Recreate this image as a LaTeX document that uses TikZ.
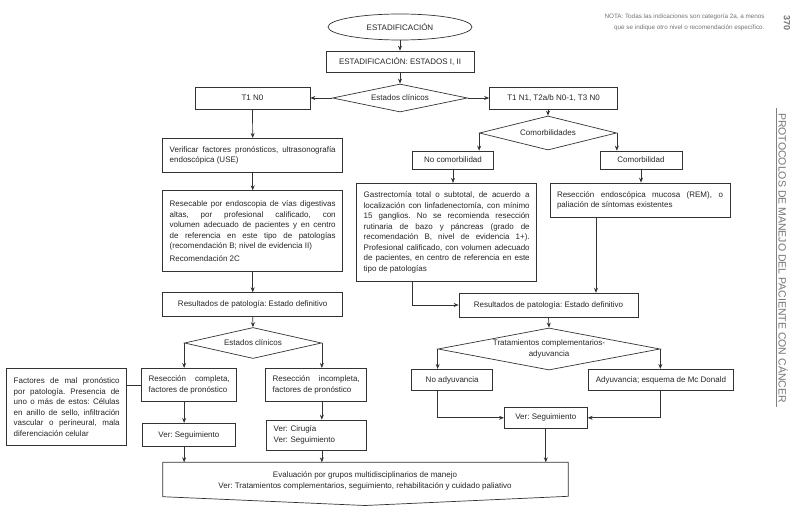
\documentclass[tikz,border=0pt]{standalone}
\usepackage{fontspec}
\setmainfont{Liberation Sans}
\usetikzlibrary{shapes.geometric,arrows.meta}
\newcommand{\fsz}{\fontsize{8}{10.5}\selectfont}
\hyphenpenalty=10000
\exhyphenpenalty=10000
\frenchspacing

\begin{document}
\begin{tikzpicture}[x=1pt, y=-1pt,
    blk/.style={draw=black!80, line width=.7pt, inner xsep=7pt, inner ysep=2pt,
      font=\fsz, text=black!85, align=center},
    par/.style={blk, align=justify},
    dec/.style={diamond, draw=black!80, line width=.7pt, inner sep=0pt,
      font=\fsz, text=black!85, align=center},
    arr/.style={draw=black!80, line width=.7pt, -{Stealth[length=5pt,width=4pt]}},
    lnk/.style={draw=black!80, line width=.7pt},
    side/.style={text=black!55}]

  \useasboundingbox (0,0) rectangle (800,513);

  % top: staging
  \node[blk, ellipse, inner sep=0pt, minimum width=144pt, minimum height=26pt] (ini) at (400,27) {ESTADIFICACIÓN};
  \node[blk, minimum width=148pt, minimum height=21pt] (est) at (400,61.5) {ESTADIFICACIÓN: ESTADOS I, II};
  \node[dec, aspect=4.8, minimum width=135pt, minimum height=28pt] (cl1) at (400,98) {Estados clínicos};
  \node[blk, minimum width=115pt, minimum height=22pt] (tA) at (252.5,98) {T1 N0};
  \node[blk, minimum width=128pt, minimum height=22pt] (tB) at (553.5,98) {T1 N1, T2a/b N0-1, T3 N0};

  \draw[arr] (ini.south) -- (est.north);
  \draw[arr] (est.south) -- (cl1.north);
  \draw[arr] (cl1.west) -- (tA.east);
  \draw[arr] (cl1.east) -- (tB.west);

  % left branch: T1 N0
  \node[par, text width=166pt, minimum height=34pt] (usr) at (252.7,155.3)
    {Verificar factores pronósticos, ultrasonografía endoscópica (USE)};
  \node[par, text width=166pt, minimum height=80.3pt] (rsc) at (252.7,230.85)
    {Resecable por endoscopia de vías digestivas\linebreak altas, por profesional calificado, con\linebreak
     volumen adecuado de pacientes y en centro\linebreak de referencia en este tipo de patologías\linebreak
     (recomendación B; nivel de evidencia II)\\[2pt]Recomendación 2C};
  \node[blk, minimum width=180pt, minimum height=23.3pt] (patL) at (252.7,304.3) {Resultados de patología: Estado definitivo};
  \node[dec, aspect=4.4, minimum width=137pt, minimum height=31pt] (cl2) at (253,343) {Estados clínicos};
  \node[par, text width=81pt, minimum height=33.4pt] (cmp) at (189.2,385) {Resección completa, factores de pronóstico};
  \node[par, text width=87pt, minimum height=33.4pt] (inc) at (316.2,385) {Resección incompleta, factores de pronóstico};
  \node[par, text width=106pt, minimum height=77.4pt] (mal) at (66.7,407)
    {Factores de mal pronóstico por patología. Presencia de uno o más de estos: Células
     en anillo de sello, infiltración vascular o perineural, mala diferenciación celular};
  \node[blk, minimum width=92.3pt, minimum height=23.4pt] (sgL) at (188.9,435) {Ver: Seguimiento};
  \node[blk, align=left, text width=86pt, minimum height=30pt] (cir) at (316.7,435) {Ver: Cirugía\\Ver: Seguimiento};

  \draw[arr] (tA.south) -- (usr.north);
  \draw[arr] (usr.south) -- (rsc.north);
  \draw[arr] (rsc.south) -- (patL.north);
  \draw[arr] (patL.south) -- (cl2.north);
  \draw[arr] (cl2.west) -- (cl2.west |- cmp.north);
  \draw[arr] (cl2.east) -- (cl2.east |- inc.north);
  \draw[lnk] (cmp.west) -- (cmp.west -| mal.east);
  \draw[arr] (cl2.west |- cmp.south) -- (cl2.west |- sgL.north);
  \draw[arr] (cl2.east |- inc.south) -- (cl2.east |- cir.north);

  % right branch: T1 N1, T2a/b N0-1, T3 N0
  \node[dec, aspect=4, minimum width=137pt, minimum height=34pt] (cmb) at (548,133) {Comorbilidades};
  \node[blk, minimum width=81.3pt, minimum height=18pt] (noc) at (453,160) {No comorbilidad};
  \node[blk, minimum width=81.7pt, minimum height=18pt] (com) at (641,160) {Comorbilidad};
  \node[par, text width=166pt, minimum height=98.5pt] (gst) at (446.7,232.5)
    {Gastrectomía total o subtotal, de acuerdo a localización con linfadenectomía, con mínimo
     15 ganglios. No se recomienda resección rutinaria de bazo y páncreas (grado de
     recomendación B, nivel de evidencia 1+). Profesional calificado, con volumen adecuado
     de pacientes, en centro de referencia en este tipo de patologías};
  \node[par, text width=166pt, minimum height=34.7pt] (rem) at (640,200.3)
    {Resección endoscópica mucosa (REM), o paliación de síntomas existentes};
  \node[blk, minimum width=179pt, minimum height=23.7pt] (patR) at (548.5,305) {Resultados de patología: Estado definitivo};
  \node[dec, aspect=5.3, minimum width=222pt, minimum height=42pt] (trt) at (549,349) {Tratamientos complementarios-\\adyuvancia};
  \node[blk, minimum width=81pt, minimum height=21.4pt] (nad) at (452.2,380) {No adyuvancia};
  \node[blk, minimum width=118.3pt, minimum height=21.4pt] (ady) at (660.9,380) {Adyuvancia; esquema de Mc Donald};
  \node[blk, minimum width=83pt, minimum height=21pt] (sgR) at (545.8,417.8) {Ver: Seguimiento};

  \draw[arr] (cmb.north |- tB.south) -- (cmb.north);
  \draw[arr] (cmb.west) -- (cmb.west |- noc.north);
  \draw[arr] (cmb.east) -- (cmb.east |- com.north);
  \draw[arr] (noc.south) -- (noc.south |- gst.north);
  \draw[arr] (com.south) -- (com.south |- rem.north);
  \draw[arr] ([xshift=-44pt]rem.south) -- ([xshift=-44pt]rem.south |- patR.north);
  \draw[arr] ([xshift=-34pt]gst.south) |- (patR.west);
  \draw[arr] (patR.south) -- (trt.north);
  \draw[arr] (trt.west) -- (trt.west |- nad.north);
  \draw[arr] (trt.east) -- (trt.east |- ady.north);
  \draw[arr] (trt.west |- nad.south) |- (sgR.west);
  \draw[arr] (trt.east |- ady.south) |- (sgR.east);

  % bottom: evaluation (document shape)
  \coordinate (ev1) at (162.7,462.3);
  \coordinate (ev2) at (568.3,462.3);
  \coordinate (ev3) at (568.3,496.3);
  \coordinate (ev4) at (365,505.5);
  \coordinate (ev5) at (162.7,496.7);
  \draw[lnk] (ev1) -- (ev2) -- (ev3) -- (ev4) -- (ev5) -- cycle;
  \node[font=\fsz, text=black!85, align=center] (evl) at (365,481)
    {Evaluación por grupos multidisciplinarios de manejo\\Ver: Tratamientos complementarios, seguimiento, rehabilitación y cuidado paliativo};

  \draw[arr] (cl2.west |- sgL.south) -- (cl2.west |- ev1);
  \draw[arr] (cl2.east |- cir.south) -- (cl2.east |- ev1);
  \draw[arr] (sgR.south) -- (sgR.south |- ev1);

  % margins
  \node[side, font=\fontsize{6.3}{11.5}\selectfont, align=right, anchor=north east] (nota) at (768,10)
    {NOTA: Todas las indicaciones son categoría 2a, a menos\\que se indique otro nivel o recomendación específico.};
  \node[side, font=\bfseries\fontsize{9}{9}\selectfont, rotate=-90] (pag) at (787,23) {370};
  \draw[black!50, line width=.6pt] (776,108) -- (776,407);
  \node[side, font=\fontsize{10.5}{10.5}\selectfont, rotate=-90] (tit) at (783,258)
    {PROTOCOLOS DE MANEJO DEL PACIENTE CON CÁNCER};
\end{tikzpicture}
\end{document}
